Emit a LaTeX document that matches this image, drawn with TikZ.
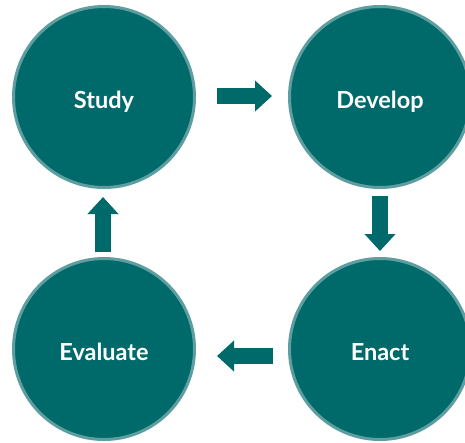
\documentclass[tikz,border=0pt]{standalone}
\usepackage{fontspec}
\setmainfont{Lato}
\usetikzlibrary{arrows.meta, positioning}
\definecolor{stagecolor}{RGB}{0,106,107}
\definecolor{rimcolor}{RGB}{94,158,160}

\begin{document}
\begin{tikzpicture}[
    x=1pt, y=1pt,
    every node/.style={font=\fontsize{23.5}{27}\selectfont\bfseries},
    stagebox/.style={circle, draw=rimcolor, fill=stagecolor, line width=3pt,
        minimum size=181pt, inner sep=0pt, text=white, align=center,
        text height=22pt, text depth=0pt},
    flow/.style={line width=16pt, stagecolor,
        -{Triangle[length=17pt, width=30pt]}},
]

% === PAGE ===
\useasboundingbox (0,0) rectangle (465,-442);

% === STAGES ===
\node[stagebox] (study) at (104,-97) {Study};
\node[stagebox] (develop) at (380,-97) {Develop};
\node[stagebox] (enact) at (380,-349) {Enact};
\node[stagebox] (evaluate) at (104,-349) {Evaluate};

% === ARROWS ===
\draw[flow, shorten <=21pt, shorten >=16pt] ([yshift=1pt]study.east) -- ([yshift=1pt]develop.west);
\draw[flow, shorten <=7pt, shorten >=6pt] (develop.south) -- (enact.north);
\draw[flow, shorten <=15pt, shorten >=21pt] ([yshift=-7pt]enact.west) -- ([yshift=-7pt]evaluate.east);
\draw[flow, shorten <=5pt, shorten >=8pt] ([xshift=-1pt]evaluate.north) -- ([xshift=-1pt]study.south);

\end{tikzpicture}
\end{document}
